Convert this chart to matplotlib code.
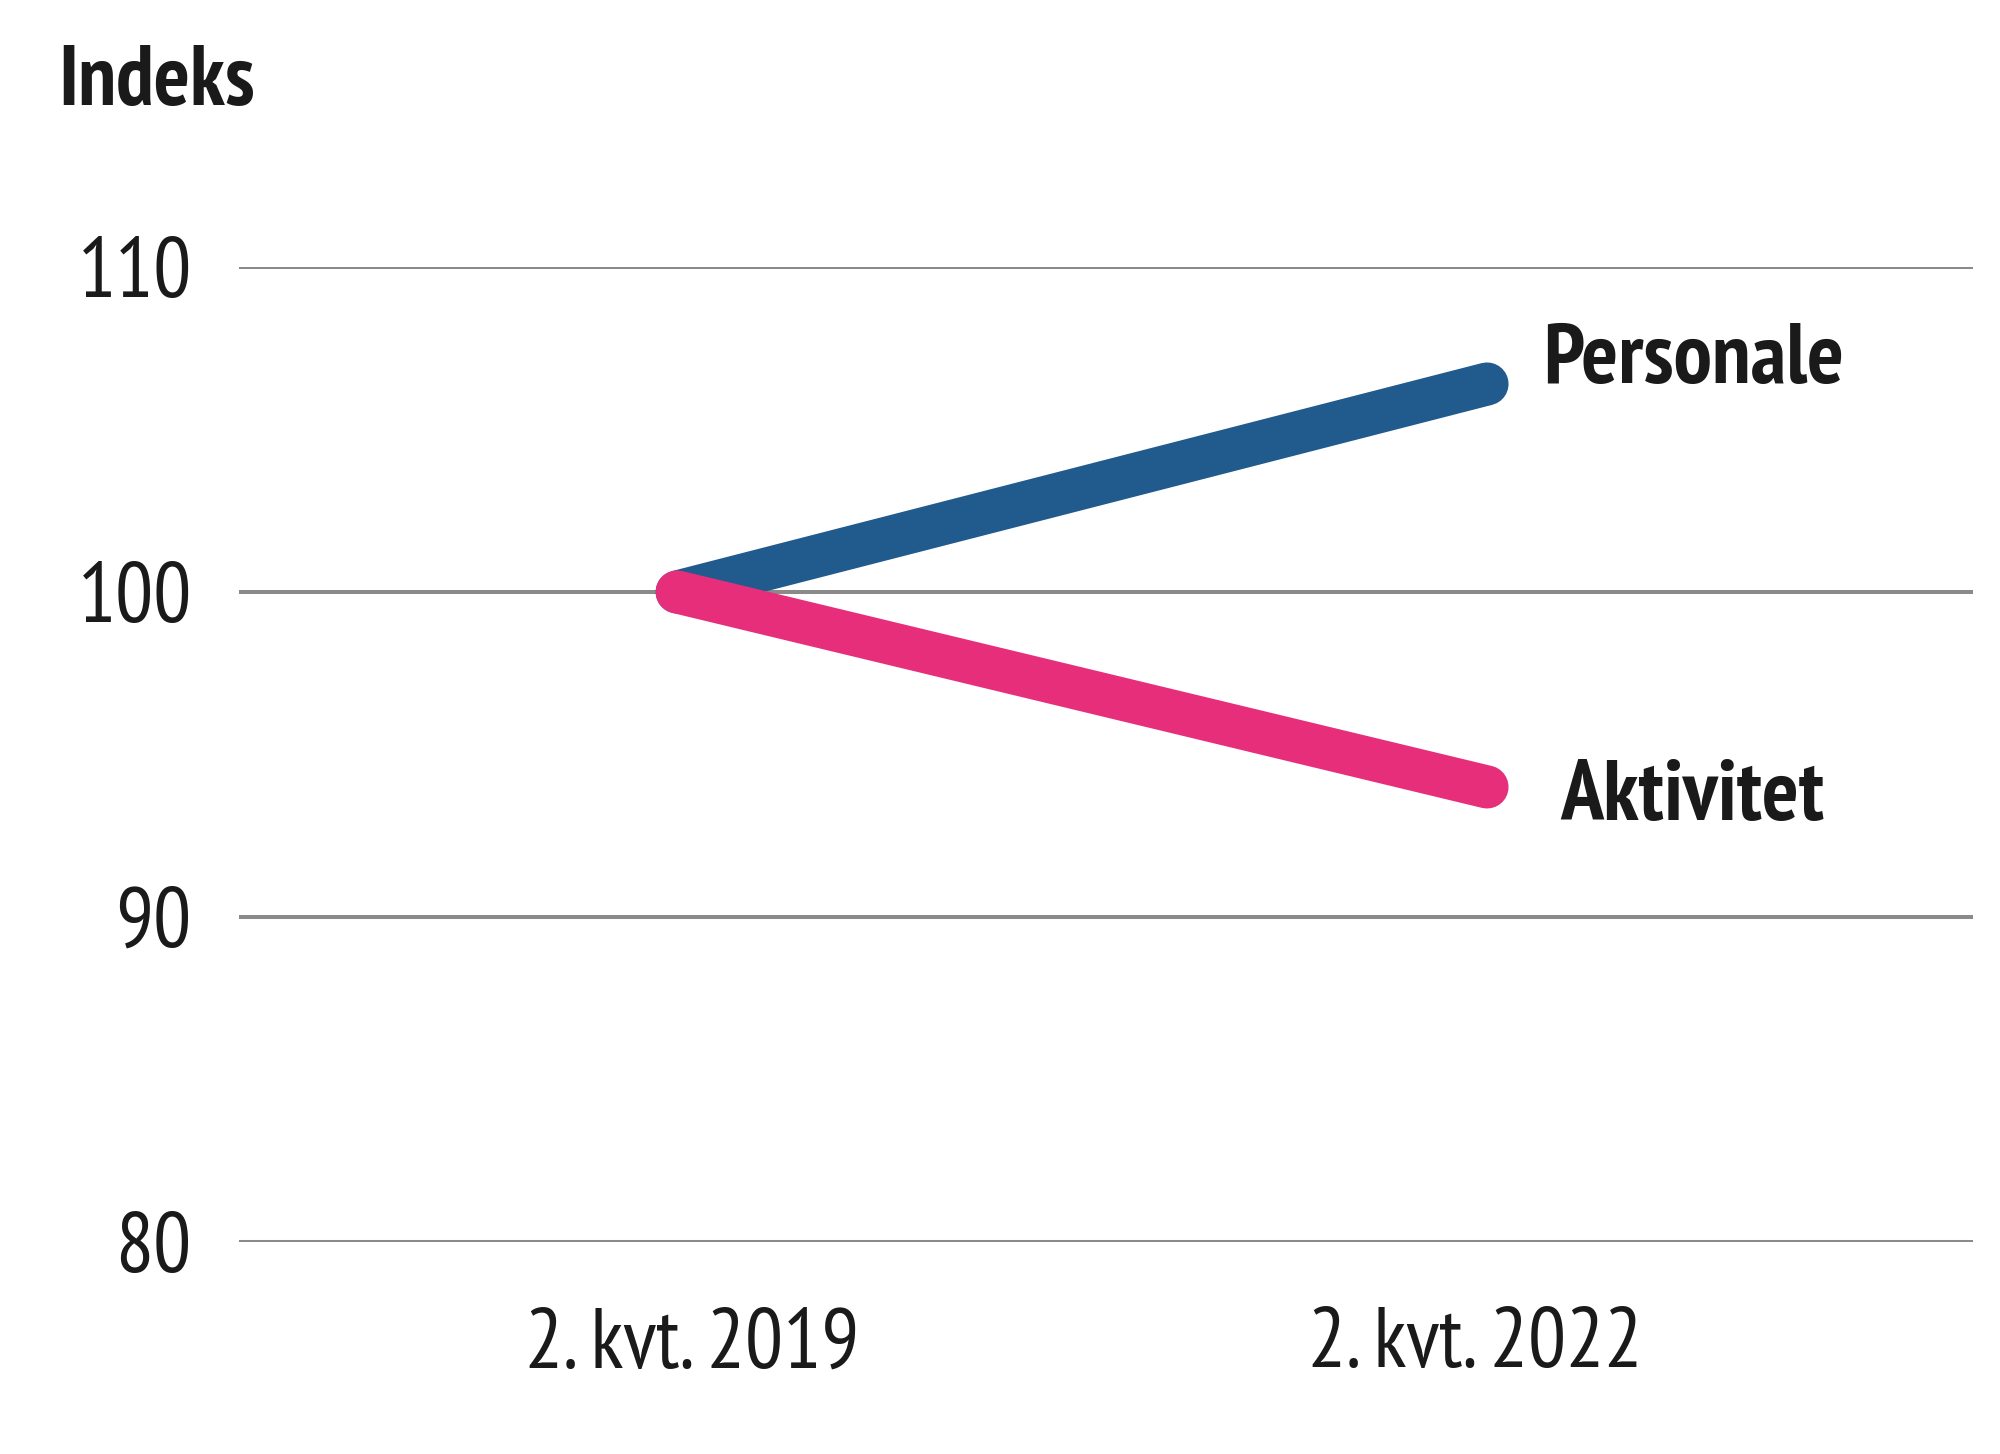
import matplotlib
matplotlib.use("Agg")
from matplotlib import pyplot as plt
from matplotlib import font_manager
from matplotlib.transforms import ScaledTranslation

# data
categories = ['2. kvt. 2019', '2. kvt. 2022']
personale = [100.0, 106.4]
aktivitet = [100.0, 94.0]
yticks = [80, 90, 100, 110]

# smal skrift, som i originalen
names = {f.name for f in font_manager.fontManager.ttflist}
fam = 'DejaVu Sans'
for cand in ['PT Sans Narrow', 'Fira Sans Condensed', 'Roboto Condensed',
             'Liberation Sans Narrow', 'Open Sans Condensed']:
    if cand in names:
        fam = cand
        break
plt.rcParams['font.family'] = [fam, 'DejaVu Sans']

text_col = '#1a1a1a'
blue = '#215b8d'
pink = '#e72e7b'

fig = plt.figure(figsize=(10, 7.27), dpi=200)
ax = fig.add_axes([0.1195, 0.1458, 0.867, 0.6706])

x = list(range(len(categories)))
ax.plot(x, personale, color=blue, lw=15.5, solid_capstyle='round', zorder=3)
ax.plot(x, aktivitet, color=pink, lw=15.5, solid_capstyle='round', zorder=4)

ax.set_xlim(-0.541, 1.600)
ax.set_ylim(80, 110)
ax.set_yticks(yticks)
ax.set_xticks(x)
ax.set_xticklabels(categories)
for yy in yticks:
    ax.axhline(yy, color='#8a8a8a', lw=1.45, zorder=1)

for s in ax.spines.values():
    s.set_visible(False)
ax.tick_params(axis='both', length=0, labelsize=30.5, colors=text_col)
ax.tick_params(axis='y', pad=17)
ax.tick_params(axis='x', pad=23.5)

# kategorietikettene står litt innenfor endepunktene i originalen
for lab, dx in zip(ax.get_xticklabels(), [5.4, -4.3]):
    lab.set_transform(lab.get_transform() + ScaledTranslation(dx / 72, 0, fig.dpi_scale_trans))

ax.annotate('Personale', (x[-1], personale[-1]), xytext=(20.2, 0.5),
            textcoords='offset points', fontsize=31, fontweight='bold',
            color=text_col, va='baseline', ha='left')
ax.annotate('Aktivitet', (x[-1], aktivitet[-1]), xytext=(26.3, -11.9),
            textcoords='offset points', fontsize=31, fontweight='bold',
            color=text_col, va='baseline', ha='left')

fig.text(0.029, 0.928, 'Indeks', fontsize=30.5, fontweight='bold',
         color=text_col, va='baseline', ha='left')

fig.savefig('out.png', dpi=200, facecolor='white')
